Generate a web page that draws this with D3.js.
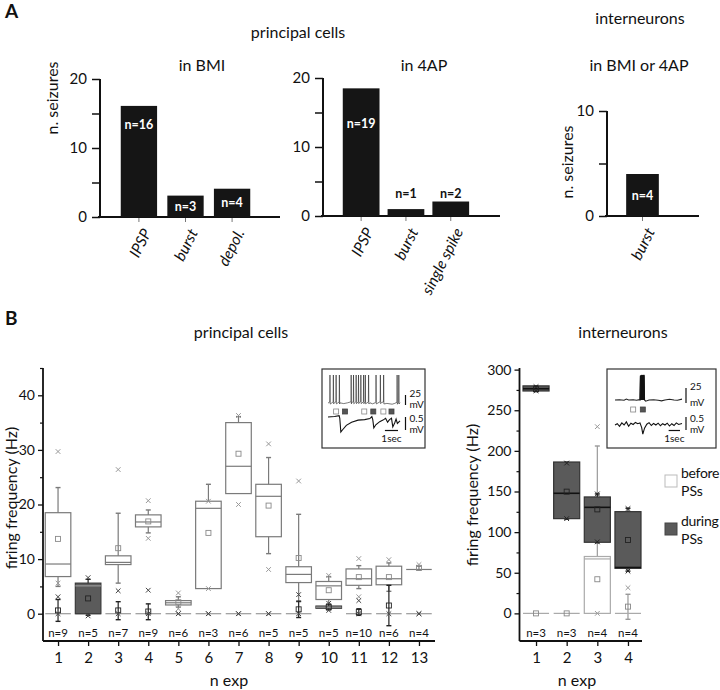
<!DOCTYPE html>
<html><head><meta charset="utf-8">
<script src="https://cdn.jsdelivr.net/npm/d3@7"></script>
<style>body{margin:0;background:#fff} svg text{font-family:Lato,"Open Sans",sans-serif;fill:#111}</style>
</head><body><svg id="c" width="720" height="690"></svg>
<script>
// ---------- Panel A data ----------
const bmiCats = ["IPSP", "burst", "depol."];
const bmiVals = [16.1, 3.1, 4.1];
const bmiLabels = ["n=16", "n=3", "n=4"];
const apCats = ["IPSP", "burst", "single spike"];
const apVals = [18.5, 1.0, 2.1];
const apLabels = ["n=19", "n=1", "n=2"];
const inCats = ["burst"];
const inVals = [4.0];
const inLabels = ["n=4"];
const seizMajor20 = [0, 10, 20], seizMinor20 = [5, 15];
const seizMajor10 = [0, 10], seizMinor10 = [5];

// ---------- Panel B data: principal cells ----------
const expL = [1,2,3,4,5,6,7,8,9,10,11,12,13];
const nL = [9,5,7,9,6,3,6,5,5,5,10,6,4];
const befQ1L   = [6.8, 0, 9.0, 15.9, 1.6, 4.6, 22.0, 14.1, 5.7, 2.6, 5.2, 5.3, 8.1];
const befMedL  = [9.1, 0, 9.4, 16.8, 2.0, 19.3, 27.0, 21.5, 7.2, 5.1, 6.4, 6.4, 8.1];
const befQ3L   = [18.5, 0, 10.6, 18.1, 2.4, 20.6, 35.0, 23.7, 8.6, 5.9, 8.2, 8.7, 8.1];
const befMeanL = [13.7, null, 12.0, 16.9, 2.1, 14.8, 29.3, 19.8, 10.2, 4.3, 6.7, 6.7, 8.4];
const befWLoL  = [5.0, null, 5.6, 14.8, 1.2, 5.9, 22.5, 11.0, 2.2, 1.8, 4.6, 4.1, 8.0];
const befWHiL  = [23.1, null, 18.4, 19.0, 3.1, 23.7, 36.1, 28.6, 18.2, 6.8, 8.8, 9.3, 8.7];
const befXLoL  = [5.6, null, null, 13.8, 0.9, 4.6, 20.0, 8.1, null, null, 3.1, null, null];
const befXHiL  = [29.7, null, 26.4, 20.7, 3.8, 20.6, 36.3, 31.1, 24.3, 7.0, 10.1, 9.9, 9.0];
const durQ1L   = [0, 0, 0, 0, 0, 0, 0, 0, 0, 1.0, 0, 0, 0];
const durMedL  = [0, 5.1, 0, 0, 0, 0, 0, 0, 0, 1.2, 0, 0, 0];
const durQ3L   = [0, 5.6, 0, 0, 0, 0, 0, 0, 0, 1.4, 0, 0, 0];
const durMeanL = [0.6, 2.8, 0.6, 0.4, null, null, null, null, 0.8, 1.2, 0.3, 1.5, null];
const durWLoL  = [-1.4, -0.3, -1.1, -1.1, null, null, null, null, -0.7, 0.7, -0.3, -2.2, null];
const durWHiL  = [2.6, 6.3, 2.2, 1.8, null, null, null, null, 2.3, 1.7, 0.9, 5.2, null];
const durXLoL  = [0, -0.4, 0, 0, 0, 0, 0, 0, 0, 0.6, 0, 0, 0];
const durXHiL  = [3.1, 6.6, 4.2, 4.3, 0, 0, 0, 0, 3.5, 1.9, 2.4, null, 0];
const freqMajorL = [0, 10, 20, 30, 40], freqMinorL = [5, 15, 25, 35, 45];

// ---------- Panel B data: interneurons ----------
const expR = [1, 2, 3, 4];
const nR = [3, 3, 4, 4];
const befQ1R   = [0, 0, 0, 0];
const befMedR  = [0, 0, 67, 0];
const befQ3R   = [0, 0, 70, 0];
const befMeanR = [0, 0, 42, 8.3];
const befWLoR  = [null, null, 6.6, -7.3];
const befWHiR  = [null, null, 206, 23.5];
const befXLoR  = [null, null, 0, null];
const befXHiR  = [null, null, 229.8, 31.6];
const durQ1R   = [273.7, 116.6, 87.5, 55.5];
const durMedR  = [276.5, 147.8, 130.5, 56.5];
const durQ3R   = [280, 186.3, 143.3, 125.2];
const durMeanR = [276, 149.8, 128, 90.3];
const durWLoR  = [273, 116, 87, 52];
const durWHiR  = [280, 186, 147, 129.4];
const durXLoR  = [274, 116.6, 88, 52];
const durXHiR  = [279, 185, 147, 129];
const freqMajorR = [0, 50, 100, 150, 200, 250, 300], freqMinorR = [25, 75, 125, 175, 225, 275];
const legendItems = ["before", "during"];

// ---------- inset traces (time s, mV) ----------
const insLTopBase = [[0,0],[0.5,1],[0.9,0.5],[1.2,-1.5],[1.5,0.5],[1.8,1],[2.4,1.5],[3.2,0.5],[3.4,-2],[3.6,0.5],[4.1,1.5],[4.5,-1],[4.9,-3],[5.1,-1],[5.5,1]];
const insLSpikes = [0.15, 0.41, 0.62, 0.87, 1.77, 1.95, 2.15, 2.33, 2.51, 2.72, 2.85, 3.1, 3.67, 4.0, 4.25, 5.28, 5.41];
const insLBot = [[0,0],[0.5,0.02],[0.85,0.05],[0.9,-0.05],[0.98,-0.58],[1.1,-0.5],[1.4,-0.32],[1.8,-0.2],[2.3,-0.12],[2.8,-0.1],[3.2,-0.06],[3.35,0.02],[3.42,-0.1],[3.5,-0.42],[3.65,-0.3],[3.95,-0.18],[4.2,-0.12],[4.4,-0.05],[4.55,-0.2],[4.7,-0.1],[4.85,-0.05],[4.95,-0.38],[5.1,-0.22],[5.2,-0.08],[5.3,-0.25],[5.5,-0.15]];
const insLMarks = [[0.62,"before"],[1.3,"during"],[2.77,"before"],[3.46,"during"],[4.23,"before"],[4.85,"during"]];
const insRTop = [[0,0],[0.4,0.5],[0.8,-0.5],[1.0,1.5],[1.2,0],[1.6,0.5],[1.9,-0.5],[2.15,0.5],[2.2,0],[2.24,40],[2.56,41],[2.6,0],[2.7,-2],[3.0,0],[3.4,0.5],[3.8,-0.5],[4.1,-1.5],[4.4,0],[4.8,1.2],[5.2,0],[5.5,-0.5],[5.9,1.5]];
const insRBurst = [[2.2,0],[2.24,40],[2.3,41],[2.56,41],[2.6,0]];
const insRBot = [[0,0],[0.2,0.05],[0.4,-0.05],[0.6,0.08],[0.8,0],[1.0,0.12],[1.2,-0.05],[1.4,0.07],[1.6,0.02],[1.8,0.1],[2.0,0.05],[2.2,0.08],[2.35,-0.1],[2.45,-0.35],[2.6,-0.12],[2.8,0.03],[3.0,0.09],[3.2,-0.02],[3.4,0.06],[3.6,0],[3.8,0.07],[4.0,-0.03],[4.2,0.05],[4.4,0],[4.6,0.07],[4.8,-0.04],[5.0,0.05],[5.2,-0.02],[5.4,0.08],[5.6,0.02],[5.9,0.06]];
const insRMarks = [[1.6,"before"],[2.45,"during"]];

// ================= drawing =================
const svg = d3.select("#c");
const F = 'Lato,"Open Sans",sans-serif';

function txt(x, y, s, opts = {}) {
  const t = svg.append("text").attr("x", x).attr("y", y).text(s)
    .attr("font-size", opts.size || 16).attr("text-anchor", opts.anchor || "middle");
  if (opts.weight) t.attr("font-weight", opts.weight);
  if (opts.rotate) t.attr("transform", `rotate(${opts.rotate},${x},${y})`);
  if (opts.fill) t.style("fill", opts.fill);
  if (opts.style) t.attr("font-style", opts.style);
  if (opts.ls) t.attr("letter-spacing", opts.ls);
  return t;
}

function styleAxis(g, fs, sw) {
  g.selectAll("path.domain").remove();
  g.selectAll(".tick line").attr("stroke", "#111").attr("stroke-width", sw);
  g.selectAll(".tick text").attr("font-size", fs).attr("font-family", F).style("fill", "#111");
}

// ---- Panel A bar chart ----
function barChart(cfg) {
  const y = d3.scaleLinear().domain(cfg.dom).range([cfg.y0, cfg.y1]);
  const x = d3.scaleBand().domain(cfg.cats).range(cfg.xr).padding(cfg.pad);
  const g = svg.append("g");
  const ga = g.append("g").attr("transform", `translate(${cfg.ax},0)`)
    .call(d3.axisLeft(y).tickValues(cfg.major).tickSize(8).tickPadding(5).tickFormat(d3.format("d")));
  styleAxis(ga, 15, 1.5);
  const gm = g.append("g").attr("transform", `translate(${cfg.ax},0)`)
    .call(d3.axisLeft(y).tickValues(cfg.minor).tickSize(8).tickFormat(""));
  styleAxis(gm, 15, 1.5);
  g.append("line").attr("x1", cfg.ax).attr("x2", cfg.ax).attr("y1", y(cfg.dom[0])).attr("y2", y(cfg.dom[1]))
    .attr("stroke", "#111").attr("stroke-width", 2);
  const gx = g.append("g").attr("transform", `translate(0,${y(0)})`)
    .call(d3.axisBottom(x).tickSize(5).tickFormat(""));
  styleAxis(gx, 15, 1);
  gx.selectAll(".tick line").attr("stroke", "#777");
  g.append("line").attr("x1", cfg.ax - 2).attr("x2", cfg.xEnd).attr("y1", y(0)).attr("y2", y(0))
    .attr("stroke", "#111").attr("stroke-width", 2);
  g.selectAll("rect.bar").data(cfg.vals).join("rect")
    .attr("x", (d, i) => x(cfg.cats[i])).attr("width", x.bandwidth())
    .attr("y", d => y(d)).attr("height", d => y(0) - y(d)).attr("fill", "#151515");
  cfg.vals.forEach((v, i) => {
    const cx = x(cfg.cats[i]) + x.bandwidth() / 2;
    let ty, fill;
    if (v > 10) { ty = y(13.4); fill = "#fff"; }
    else if (v >= 2.5) { ty = (y(v) + y(0)) / 2; fill = "#fff"; }
    else { ty = y(3.2); fill = "#111"; }
    txt(cx, ty + 4.5, cfg.labels[i], { size: 12.5, weight: "bold", fill });
    txt(cx + 8, y(0) + 13, cfg.cats[i], { size: 15.5, anchor: "end", rotate: -63, style: "italic" })
      .attr("dy", "0.35em");
  });
  return { x, y };
}

txt(5, 18, "A", { size: 19, weight: "bold", anchor: "start" });
txt(298, 38, "principal cells", { size: 16 });
txt(640, 24, "interneurons", { size: 16 });
txt(202, 71, "in BMI", { size: 16 });
txt(424, 71, "in 4AP", { size: 16 });
txt(639, 71, "in BMI or 4AP", { size: 16 });

barChart({ dom: [0, 20], y0: 217, y1: 79, cats: bmiCats, vals: bmiVals, labels: bmiLabels,
  xr: [110.5, 260.5], pad: 0.22, ax: 100, xEnd: 280, major: seizMajor20, minor: seizMinor20 });
barChart({ dom: [0, 20], y0: 216, y1: 78, cats: apCats, vals: apVals, labels: apLabels,
  xr: [334.7, 477.2], pad: 0.18, ax: 323, xEnd: 500, major: seizMajor20, minor: seizMinor20 });
barChart({ dom: [0, 10], y0: 216, y1: 111, cats: inCats, vals: inVals, labels: inLabels,
  xr: [618.5, 666.5], pad: 0.19, ax: 607, xEnd: 699, major: seizMajor10, minor: seizMinor10 });
txt(58, 98, "n. seizures", { size: 16, rotate: -90 });
txt(573, 162, "n. seizures", { size: 16, rotate: -90 });

// ---- Panel B ----
txt(5, 325, "B", { size: 19, weight: "bold", anchor: "start" });
txt(241, 338, "principal cells", { size: 16 });
txt(623, 338, "interneurons", { size: 16 });

function boxAxes(cfg) {
  const y = d3.scaleLinear().domain(cfg.dom).range([641, 368]);
  const x = d3.scaleLinear().domain(cfg.xdom).range(cfg.xr);
  const g = svg.append("g");
  const ga = g.append("g").attr("transform", `translate(${cfg.ax},0)`)
    .call(d3.axisLeft(y).tickValues(cfg.major).tickSize(5).tickPadding(3).tickFormat(d3.format("d")));
  styleAxis(ga, 14, 1.3);
  const gm = g.append("g").attr("transform", `translate(${cfg.ax},0)`)
    .call(d3.axisLeft(y).tickValues(cfg.minor).tickSize(3).tickFormat(""));
  styleAxis(gm, 14, 1.2);
  g.append("line").attr("x1", cfg.ax).attr("x2", cfg.ax).attr("y1", 641).attr("y2", 368)
    .attr("stroke", "#111").attr("stroke-width", 1.8);
  const gx = g.append("g").attr("transform", "translate(0,641)")
    .call(d3.axisBottom(x).tickValues(cfg.exps).tickSize(5).tickPadding(6).tickFormat(d3.format("d")));
  styleAxis(gx, 15, 1.3);
  g.append("line").attr("x1", cfg.ax).attr("x2", cfg.xEnd).attr("y1", 641).attr("y2", 641)
    .attr("stroke", "#111").attr("stroke-width", 1.8);
  cfg.ns.forEach((n, i) => txt(x(cfg.exps[i]), 637, "n=" + n, { size: 11.5 }));
  txt(cfg.xlabX, 686, "n exp", { size: 16 });
  txt(cfg.ylabX, cfg.ylabY, "firing frequency (Hz)", { size: 16, rotate: -90 });
  return { x, y, g };
}

function drawBoxes(ax, s, st) {
  const { x, y } = ax;
  const g = svg.append("g");
  const hw = (x(1.85) - x(1)) / 2;
  s.exps.forEach((e, i) => {
    const cx = x(e);
    if (s.wLo[i] != null) {
      g.append("line").attr("x1", cx).attr("x2", cx).attr("y1", y(s.wLo[i])).attr("y2", y(s.wHi[i]))
        .attr("stroke", st.wh).attr("stroke-width", 1.2);
      [s.wLo[i], s.wHi[i]].forEach(v => g.append("line").attr("x1", cx - 2.5).attr("x2", cx + 2.5)
        .attr("y1", y(v)).attr("y2", y(v)).attr("stroke", st.wh).attr("stroke-width", 1.4));
    }
    const top = y(s.q3[i]), bot = y(s.q1[i]);
    g.append("rect").attr("x", cx - hw).attr("width", 2 * hw).attr("y", top).attr("height", Math.max(0, bot - top))
      .attr("fill", st.fill).attr("stroke", st.stroke).attr("stroke-width", 1.2);
    g.append("line").attr("x1", cx - hw).attr("x2", cx + hw).attr("y1", y(s.med[i])).attr("y2", y(s.med[i]))
      .attr("stroke", st.med).attr("stroke-width", st.medW);
    if (s.mean[i] != null) {
      g.append("rect").attr("x", cx - 2.5).attr("y", y(s.mean[i]) - 2.5).attr("width", 5).attr("height", 5)
        .attr("fill", "none").attr("stroke", st.mean).attr("stroke-width", 0.9);
    }
    [s.xLo[i], s.xHi[i]].forEach(v => {
      if (v == null) return;
      g.append("path").attr("d", d3.symbol(d3.symbolTimes, 16)())
        .attr("transform", `translate(${cx},${y(v)})`).attr("fill", "none")
        .attr("stroke", st.xc).attr("stroke-width", 1);
    });
  });
}

const axL = boxAxes({ dom: [-5, 45], xdom: [0.5, 13.5], xr: [43, 434], ax: 43, xEnd: 435,
  major: freqMajorL, minor: freqMinorL, exps: expL, ns: nL, xlabX: 229, ylabX: 17, ylabY: 498 });
drawBoxes(axL, { exps: expL, q1: befQ1L, med: befMedL, q3: befQ3L, mean: befMeanL, wLo: befWLoL, wHi: befWHiL, xLo: befXLoL, xHi: befXHiL },
  { fill: "#fff", stroke: "#7a7a7a", wh: "#7a7a7a", med: "#7a7a7a", medW: 1.2, mean: "#8a8a8a", xc: "#999" });
drawBoxes(axL, { exps: expL, q1: durQ1L, med: durMedL, q3: durQ3L, mean: durMeanL, wLo: durWLoL, wHi: durWHiL, xLo: durXLoL, xHi: durXHiL },
  { fill: "#5b5b5b", stroke: "#3a3a3a", wh: "#222", med: "#999", medW: 1.2, mean: "#222", xc: "#444" });

const axR = boxAxes({ dom: [-34, 302], xdom: [0.5, 4.5], xr: [520.7, 643.3], ax: 519.5, xEnd: 642,
  major: freqMajorR, minor: freqMinorR, exps: expR, ns: nR, xlabX: 577, ylabX: 478, ylabY: 495 });
drawBoxes(axR, { exps: expR, q1: befQ1R, med: befMedR, q3: befQ3R, mean: befMeanR, wLo: befWLoR, wHi: befWHiR, xLo: befXLoR, xHi: befXHiR },
  { fill: "#fff", stroke: "#aaa", wh: "#999", med: "#aaa", medW: 1.2, mean: "#888", xc: "#999" });
drawBoxes(axR, { exps: expR, q1: durQ1R, med: durMedR, q3: durQ3R, mean: durMeanR, wLo: durWLoR, wHi: durWHiR, xLo: durXLoR, xHi: durXHiR },
  { fill: "#5a5a5a", stroke: "#333", wh: "#222", med: "#111", medW: 1.6, mean: "#222", xc: "#222" });

// legend
const legFill = { before: "#fff", during: "#5a5a5a" };
const legStroke = { before: "#bbb", during: "#444" };
legendItems.forEach((k, i) => {
  const ly = 475 + i * 48;
  svg.append("rect").attr("x", 665).attr("y", ly).attr("width", 12).attr("height", 12)
    .attr("fill", legFill[k]).attr("stroke", legStroke[k]);
  txt(681, ly + 3, k, { size: 14, anchor: "start", ls: "-0.3px" });
  txt(681, ly + 21, "PSs", { size: 14, anchor: "start" });
});

// ---- insets ----
function inset(cfg) {
  const g = svg.append("g");
  g.append("rect").attr("x", cfg.bx).attr("y", 369).attr("width", cfg.bw).attr("height", 79)
    .attr("fill", "#fff").attr("stroke", "#333").attr("stroke-width", 1.2);
  const xt = d3.scaleLinear().domain([0, cfg.dur]).range([cfg.tx0, cfg.tx1]);
  const yTop = d3.scaleLinear().domain([0, 25]).range([cfg.topBase, cfg.topBase - cfg.mv25]);
  const yBot = d3.scaleLinear().domain([0, 0.5]).range([cfg.botBase, cfg.botBase - 13]);
  const line = (ys) => d3.line().x(d => xt(d[0])).y(d => ys(d[1]));
  let topPts = cfg.top;
  if (cfg.spikes) {
    topPts = [];
    const base = cfg.top;
    const baseAt = t => { for (let k = 1; k < base.length; k++) if (base[k][0] >= t) { const a = base[k-1], b = base[k]; return a[1] + (b[1]-a[1]) * (t-a[0])/(b[0]-a[0]); } return 0; };
    let si = 0;
    base.forEach(p => {
      while (si < cfg.spikes.length && cfg.spikes[si] < p[0]) {
        const t = cfg.spikes[si], b = baseAt(t);
        topPts.push([t - 0.015, b + 2], [t, 70], [t + 0.02, b - 3]);
        si++;
      }
      topPts.push(p);
    });
  }
  g.append("path").attr("d", line(yTop)(topPts)).attr("fill", "none")
    .attr("stroke", "#222").attr("stroke-width", cfg.spikes ? 0.6 : 1.1);
  if (cfg.burst) {
    g.append("path").attr("d", line(yTop)(cfg.burst)).attr("fill", "#111").attr("stroke", "#111").attr("stroke-width", 1);
  }
  g.append("path").attr("d", line(yBot)(cfg.bot)).attr("fill", "none").attr("stroke", "#111").attr("stroke-width", 1.1);
  cfg.marks.forEach(m => g.append("rect").attr("x", xt(m[0]) - 2.5).attr("y", cfg.markY - 2.5).attr("width", 5).attr("height", 5)
    .attr("fill", m[1] === "during" ? "#555" : "#fff").attr("stroke", m[1] === "during" ? "#444" : "#888").attr("stroke-width", 0.8));
  g.append("line").attr("x1", cfg.sbx).attr("x2", cfg.sbx).attr("y1", cfg.sb1[0]).attr("y2", cfg.sb1[1]).attr("stroke", "#111").attr("stroke-width", 1.2);
  g.append("line").attr("x1", cfg.sbx).attr("x2", cfg.sbx).attr("y1", cfg.sb2[0]).attr("y2", cfg.sb2[1]).attr("stroke", "#111").attr("stroke-width", 1.2);
  g.append("line").attr("x1", xt(cfg.dur) - (xt(1) - xt(0)) - 2).attr("x2", xt(cfg.dur) - 2).attr("y1", 430.5).attr("y2", 430.5).attr("stroke", "#111").attr("stroke-width", 1.2);
  txt(cfg.sbx + 4, cfg.sb1[0] + 2, "25", { size: 10, anchor: "start" });
  txt(cfg.sbx + 4, cfg.sb1[1] + 3, "mV", { size: 10, anchor: "start" });
  txt(cfg.sbx + 4, cfg.sb2[0] + 5, "0.5", { size: 10, anchor: "start" });
  txt(cfg.sbx + 4, cfg.sb2[1] + 3, "mV", { size: 10, anchor: "start" });
  txt(xt(cfg.dur) - (xt(1) - xt(0)) / 2 - 2, 442, "1sec", { size: 10 });
}
inset({ bx: 322, bw: 103, dur: 5.5, tx0: 328, tx1: 400, topBase: 403, mv25: 10, botBase: 417,
  top: insLTopBase, spikes: insLSpikes, bot: insLBot, marks: insLMarks, markY: 411.5,
  sbx: 405.5, sb1: [395, 405], sb2: [417, 430] });
inset({ bx: 607, bw: 109, dur: 5.9, tx0: 615, tx1: 682, topBase: 400, mv25: 15, botBase: 425,
  top: insRTop, burst: insRBurst, bot: insRBot, marks: insRMarks, markY: 409.5,
  sbx: 686, sb1: [388, 403], sb2: [417, 430] });
</script></body></html>
